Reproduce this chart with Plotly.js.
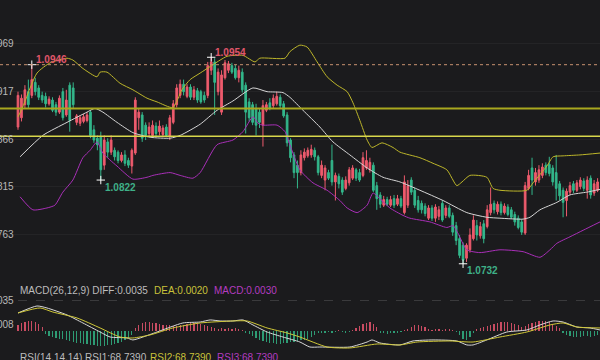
<!DOCTYPE html>
<html><head><meta charset="utf-8">
<script src="https://cdn.plot.ly/plotly-3.0.1.min.js"></script>
<style>html,body{margin:0;padding:0;background:#1b1b1d;overflow:hidden}#chart{width:600px;height:360px}</style>
</head><body><div id="chart"></div>
<script>
// ---- candle data (EUR/USD style) ----
const open=[1.0879,1.0889,1.0903,1.0917,1.0913,1.0927,1.0921,1.0913,1.0912,1.0904,
1.0908,1.0903,1.0895,1.0917,1.0892,1.0924,1.0921,1.0884,1.0883,1.0885,
1.0886,1.0895,1.0876,1.0867,1.0868,1.0838,1.0863,1.0852,1.0854,1.0852,
1.0843,1.0849,1.0843,1.0837,1.0851,1.0889,1.0892,1.0881,1.0872,1.0870,
1.0880,1.0874,1.0871,1.0879,1.0869,1.0884,1.0903,1.0913,1.0925,1.0912,
1.0922,1.0911,1.0918,1.0917,1.0913,1.0913,1.0940,1.0949,1.0917,1.0895,
1.0932,1.0940,1.0945,1.0942,1.0932,1.0938,1.0924,1.0906,1.0903,1.0899,
1.0895,1.0881,1.0897,1.0905,1.0902,1.0904,1.0911,1.0904,1.0892,1.0865,
1.0849,1.0838,1.0830,1.0846,1.0848,1.0849,1.0854,1.0847,1.0827,1.0822,
1.0830,1.0843,1.0820,1.0826,1.0822,1.0813,1.0819,1.0824,1.0833,1.0830,
1.0827,1.0835,1.0833,1.0838,1.0816,1.0806,1.0795,1.0801,1.0795,1.0802,
1.0796,1.0802,1.0787,1.0795,1.0822,1.0811,1.0800,1.0797,1.0794,1.0781,
1.0792,1.0781,1.0783,1.0797,1.0784,1.0792,1.0784,1.0773,1.0759,1.0752,
1.0738,1.0747,1.0759,1.0773,1.0762,1.0775,1.0772,1.0787,1.0797,1.0788,
1.0796,1.0787,1.0793,1.0790,1.0785,1.0781,1.0777,1.0765,1.0813,1.0835,
1.0820,1.0822,1.0827,1.0838,1.0839,1.0835,1.0830,1.0818,1.0811,1.0800,
1.0809,1.0818,1.0811,1.0815,1.0821,1.0811,1.0824,1.0808,1.0811];
const high=[1.0917,1.0914,1.0924,1.0930,1.0946,1.0932,1.0924,1.0917,1.0916,1.0912,
1.0911,1.0906,1.0913,1.0921,1.0919,1.0927,1.0927,1.0893,1.0892,1.0893,
1.0895,1.0897,1.0881,1.0870,1.0874,1.0870,1.0867,1.0870,1.0857,1.0854,
1.0852,1.0854,1.0846,1.0856,1.0911,1.0899,1.0895,1.0884,1.0884,1.0886,
1.0884,1.0886,1.0881,1.0882,1.0892,1.0908,1.0925,1.0930,1.0930,1.0925,
1.0925,1.0923,1.0921,1.0919,1.0917,1.0949,1.0954,1.0953,1.0942,1.0940,
1.0951,1.0950,1.0948,1.0946,1.0945,1.0942,1.0927,1.0910,1.0906,1.0904,
1.0899,1.0908,1.0906,1.0910,1.0914,1.0917,1.0914,1.0907,1.0895,1.0867,
1.0852,1.0843,1.0854,1.0856,1.0857,1.0860,1.0857,1.0849,1.0843,1.0838,
1.0833,1.0860,1.0830,1.0829,1.0825,1.0826,1.0836,1.0838,1.0835,1.0834,
1.0852,1.0854,1.0846,1.0841,1.0820,1.0809,1.0805,1.0804,1.0805,1.0806,
1.0806,1.0805,1.0827,1.0822,1.0825,1.0814,1.0805,1.0800,1.0797,1.0795,
1.0795,1.0796,1.0794,1.0800,1.0795,1.0795,1.0787,1.0777,1.0763,1.0755,
1.0754,1.0770,1.0784,1.0779,1.0777,1.0779,1.0795,1.0814,1.0800,1.0799,
1.0799,1.0797,1.0796,1.0793,1.0788,1.0784,1.0780,1.0820,1.0833,1.0846,
1.0835,1.0838,1.0840,1.0841,1.0847,1.0838,1.0849,1.0821,1.0814,1.0813,
1.0820,1.0821,1.0822,1.0825,1.0824,1.0826,1.0827,1.0822,1.0824];
const low=[1.0876,1.0885,1.0899,1.0899,1.0910,1.0913,1.0908,1.0905,1.0900,1.0902,
1.0895,1.0891,1.0893,1.0886,1.0890,1.0874,1.0899,1.0881,1.0880,1.0883,
1.0884,1.0867,1.0862,1.0854,1.0822,1.0833,1.0846,1.0849,1.0843,1.0840,
1.0841,1.0837,1.0835,1.0829,1.0849,1.0876,1.0863,1.0865,1.0869,1.0868,
1.0869,1.0870,1.0868,1.0868,1.0865,1.0882,1.0900,1.0910,1.0913,1.0910,
1.0908,1.0908,1.0905,1.0904,1.0905,1.0910,1.0935,1.0892,1.0913,1.0892,
1.0930,1.0937,1.0936,1.0930,1.0927,1.0916,1.0872,1.0885,1.0881,1.0870,
1.0878,1.0858,1.0895,1.0897,1.0899,1.0902,1.0899,1.0889,1.0858,1.0841,
1.0824,1.0813,1.0827,1.0843,1.0846,1.0846,1.0843,1.0827,1.0824,1.0811,
1.0822,1.0816,1.0800,1.0813,1.0806,1.0811,1.0816,1.0822,1.0821,1.0820,
1.0825,1.0833,1.0830,1.0809,1.0790,1.0792,1.0793,1.0794,1.0793,1.0792,
1.0794,1.0792,1.0785,1.0792,1.0806,1.0792,1.0787,1.0786,1.0783,1.0779,
1.0778,1.0777,1.0779,1.0777,1.0781,1.0781,1.0762,1.0752,1.0738,1.0732,
1.0734,1.0744,1.0757,1.0757,1.0759,1.0754,1.0770,1.0784,1.0786,1.0785,
1.0784,1.0785,1.0783,1.0780,1.0773,1.0769,1.0763,1.0763,1.0811,1.0806,
1.0816,1.0819,1.0824,1.0827,1.0826,1.0816,1.0800,1.0800,1.0782,1.0783,
1.0806,1.0808,1.0809,1.0812,1.0810,1.0802,1.0802,1.0805,1.0809];
const close=[1.0913,1.0910,1.0919,1.0903,1.0930,1.0917,1.0911,1.0908,1.0904,1.0909,
1.0897,1.0895,1.0910,1.0889,1.0908,1.0886,1.0903,1.0891,1.0889,1.0890,
1.0892,1.0870,1.0865,1.0860,1.0833,1.0865,1.0852,1.0865,1.0847,1.0843,
1.0849,1.0840,1.0838,1.0854,1.0908,1.0895,1.0867,1.0870,1.0879,1.0881,
1.0872,1.0880,1.0878,1.0870,1.0889,1.0904,1.0921,1.0925,1.0917,1.0922,
1.0911,1.0919,1.0908,1.0906,1.0908,1.0945,1.0949,1.0927,1.0938,1.0935,
1.0948,1.0947,1.0938,1.0932,1.0940,1.0919,1.0895,1.0889,1.0884,1.0881,
1.0884,1.0902,1.0903,1.0899,1.0910,1.0912,1.0902,1.0891,1.0862,1.0846,
1.0830,1.0830,1.0849,1.0852,1.0854,1.0855,1.0847,1.0830,1.0838,1.0835,
1.0824,1.0820,1.0827,1.0818,1.0809,1.0822,1.0833,1.0835,1.0824,1.0822,
1.0846,1.0843,1.0841,1.0811,1.0802,1.0796,1.0801,1.0796,1.0801,1.0795,
1.0802,1.0794,1.0820,1.0816,1.0809,1.0795,1.0790,1.0790,1.0786,1.0792,
1.0781,1.0793,1.0790,1.0779,1.0792,1.0783,1.0766,1.0757,1.0741,1.0736,
1.0752,1.0763,1.0779,1.0763,1.0772,1.0759,1.0790,1.0796,1.0790,1.0796,
1.0787,1.0794,1.0785,1.0782,1.0777,1.0771,1.0766,1.0816,1.0827,1.0822,
1.0830,1.0833,1.0836,1.0830,1.0829,1.0820,1.0813,1.0805,1.0798,1.0810,
1.0816,1.0811,1.0819,1.0822,1.0813,1.0822,1.0806,1.0818,1.0820];

// ---- Bollinger bands (at candle positions) ----
const upperIdx=[0,1.2,5.5,9.3,14.2,15.9,18.8,22.9,23.8,25.8,29.6,33.3,37.4,40.3,44.9,47.5,49.9,52.8,55.7,60.6,65.2,68.7,70.1,77.4,78.8,81.7,83.8,86.7,89.6,92.5,95.4,97.1,99.1,101.2,102.6,105.5,108.7,110.7,116.5,120.3,124.3,127.2,128.7,131.0,135.9,137.7,139.7,147.5,149.3,153.3,155.1,158.0,162.9,168.7];
const upperVal=[1.0890,1.0899,1.0937,1.0948,1.0953,1.0951,1.0942,1.0933,1.0938,1.0938,1.0926,1.0919,1.0910,1.0906,1.0900,1.0919,1.0930,1.0937,1.0944,1.0955,1.0956,1.0949,1.0953,1.0953,1.0960,1.0967,1.0965,1.0949,1.0933,1.0924,1.0917,1.0905,1.0886,1.0865,1.0857,1.0862,1.0857,1.0852,1.0846,1.0840,1.0833,1.0816,1.0820,1.0827,1.0825,1.0813,1.0811,1.0811,1.0819,1.0837,1.0847,1.0848,1.0849,1.0851];
const midIdx=[0.6,7.2,14.2,20.0,22.3,24.6,28.7,33.3,38.3,44.1,47.0,52.8,57.7,62.3,68.1,72.2,76.8,78.8,82.6,87.5,91.3,96.2,101.2,105.8,110.7,116.5,123.2,130.1,135.9,139.7,146.4,148.4,151.3,156.2,160.0,164.9,168.7];
const midVal=[1.0847,1.0870,1.0884,1.0895,1.0899,1.0895,1.0884,1.0873,1.0868,1.0867,1.0870,1.0882,1.0897,1.0907,1.0921,1.0917,1.0916,1.0911,1.0897,1.0879,1.0863,1.0849,1.0835,1.0825,1.0820,1.0811,1.0800,1.0787,1.0782,1.0781,1.0780,1.0782,1.0790,1.0798,1.0806,1.0809,1.0812];
const lowerIdx=[0.6,4.3,8.4,10.7,13.0,15.9,18.8,20.9,22.9,24.6,28.7,33.3,37.4,39.1,44.1,47.0,50.7,52.8,57.7,62.3,65.2,68.1,69.6,71.0,75.1,77.4,78.8,81.7,85.5,89.6,93.3,95.4,98.3,101.2,102.9,104.9,107.8,111.6,113.6,119.4,124.3,126.1,127.5,130.1,133.9,139.7,146.4,151.3,154.2,156.2,160.0,163.8,168.7];
const lowerVal=[1.0804,1.0790,1.0792,1.0795,1.0809,1.0822,1.0846,1.0854,1.0863,1.0851,1.0837,1.0823,1.0825,1.0827,1.0830,1.0827,1.0824,1.0830,1.0860,1.0865,1.0874,1.0890,1.0883,1.0881,1.0881,1.0874,1.0860,1.0833,1.0819,1.0811,1.0800,1.0792,1.0787,1.0795,1.0808,1.0802,1.0792,1.0784,1.0781,1.0777,1.0771,1.0773,1.0765,1.0747,1.0744,1.0747,1.0745,1.0739,1.0747,1.0754,1.0761,1.0768,1.0777];

// ---- horizontal levels ----
const dashedLevel=[1.0946];
const yellowLevels=[1.0899,1.0869];

// ---- marked extremes ----
const extremeIdx=[4,56,24,129];
const extremeVal=[1.0946,1.0954,1.0822,1.0732];
const extremeKind=['high','high','low','low'];

// ---- price axis tick labels ----
const mainTicks=[1.0969,1.0917,1.0866,1.0815,1.0763];

// ---- MACD ----
const macdHist=[0.00070,0.00093,0.00104,0.00116,0.00116,0.00104,0.00081,0.00046,
-0.00035,-0.00058,-0.00070,-0.00081,-0.00093,-0.00093,-0.00104,-0.00116,-0.00128,-0.00139,-0.00139,-0.00151,-0.00151,-0.00162,-0.00162,-0.00174,-0.00174,-0.00174,-0.00162,-0.00162,-0.00151,-0.00139,-0.00128,-0.00104,-0.00081,-0.00046,
0.00035,0.00070,0.00093,0.00104,0.00104,0.00093,0.00093,0.00081,0.00070,0.00070,0.00070,0.00058,0.00058,0.00070,0.00070,0.00081,0.00093,0.00093,0.00093,0.00081,0.00070,0.00058,0.00046,
0.00035,0.00023,0.00035,0.00023,0.00035,0.00023,0.00035,0.00023,0.00012,-0.00023,
-0.00035,-0.00058,-0.00081,-0.00104,-0.00116,-0.00128,-0.00139,-0.00139,-0.00151,-0.00151,-0.00139,-0.00139,-0.00128,-0.00128,-0.00116,-0.00104,-0.00104,-0.00093,-0.00070,-0.00046,-0.00023,
-0.00023,-0.00023,-0.00012,-0.00023,-0.00012,0.00012,-0.00012,-0.00023,-0.00012,0.00012,
0.00035,0.00058,0.00081,0.00093,0.00104,0.00081,0.00046,
-0.00023,-0.00023,-0.00035,-0.00023,-0.00023,-0.00023,-0.00012,0.00012,0.00023,
0.00046,0.00070,0.00070,0.00058,0.00046,0.00023,
0.00012,0.00023,0.00023,0.00012,0.00023,0.00023,0.00012,-0.00012,
-0.00046,-0.00093,-0.00104,-0.00070,-0.00023,
0.00023,0.00035,0.00046,0.00058,0.00070,0.00081,0.00093,0.00104,0.00104,0.00104,0.00093,0.00081,0.00070,0.00046,
0.00058,0.00081,0.00093,0.00104,0.00116,0.00116,0.00116,0.00104,0.00081,0.00058,0.00035,
-0.00023,-0.00046,-0.00058,-0.00070,-0.00070,-0.00070,-0.00058,-0.00058,-0.00070,-0.00058,-0.00046];
const diffIdx=[0,5.5,8.4,14.2,18.8,23.8,26.7,31.6,33.3,36.2,40.3,47.8,52.8,55.7,58.6,62.3,65.2,68.1,72.2,76.8,81.7,84.6,87.5,96.2,101.2,102.6,104.9,110.7,114.5,120.3,127.2,130.1,131.9,135.9,141.7,147.5,151.3,155.1,158.0,162.0,165.8,168.7];
const diffVal=[0.00209,0.00290,0.00267,0.00186,0.00093,-0.00012,-0.00070,-0.00081,-0.00104,-0.00070,-0.00012,0.00093,0.00104,0.00128,0.00116,0.00116,0.00128,0.00070,-0.00012,-0.00070,-0.00128,-0.00186,-0.00186,-0.00186,-0.00128,-0.00104,-0.00139,-0.00162,-0.00116,-0.00104,-0.00116,-0.00162,-0.00162,-0.00104,-0.00012,0.00012,0.00070,0.00116,0.00104,0.00046,0.00035,0.00012];
const deaIdx=[0,6.4,10.1,17.1,23.8,29.6,33.3,38.3,44.9,52.8,62.3,66.4,72.2,78.0,81.7,89.6,96.2,104.1,110.7,115.7,125.2,131.9,139.7,147.5,154.2,158.0,162.0,168.7];
const deaVal=[0.00209,0.00267,0.00220,0.00151,0.00035,-0.00070,-0.00081,-0.00046,0.00035,0.00093,0.00116,0.00116,0.00035,-0.00023,-0.00070,-0.00186,-0.00197,-0.00151,-0.00162,-0.00128,-0.00116,-0.00128,-0.00070,-0.00012,0.00070,0.00093,0.00046,0.00035];
const macdTicks=[0.0035,0.0008];

// ---- indicator header texts ----
const macdLabels=[
 {text:'MACD(26,12,9) DIFF:0.0035', color:'#bdbdbd', px:18},
 {text:'DEA:0.0020', color:'#c9c23a', px:152},
 {text:'MACD:0.0030', color:'#b43cc0', px:212}];
const rsiLabels=[
 {text:'RSI(14,14,14) RSI1:68.7390', color:'#bdbdbd', px:18},
 {text:'RSI2:68.7390', color:'#c9c23a', px:148},
 {text:'RSI3:68.7390', color:'#b43cc0', px:215}];

// ---- styling ----
const W=600,H=360,BG='#1b1b1d';
const UP='#ee5b6d', DOWN='#33b78b';
const FONT='"Liberation Sans", Arial, sans-serif';
const idx=open.map((_,i)=>i);

const traces=[
 {type:'candlestick', x:idx, open:open, high:high, low:low, close:close, xaxis:'x', yaxis:'y',
  increasing:{line:{color:UP,width:1},fillcolor:UP}, decreasing:{line:{color:DOWN,width:1},fillcolor:DOWN},
  whiskerwidth:0, hoverinfo:'skip', showlegend:false},
 {type:'scatter', mode:'lines', x:upperIdx, y:upperVal, line:{color:'#bdb62a',width:1,shape:'spline',smoothing:0.6}, hoverinfo:'skip', showlegend:false},
 {type:'scatter', mode:'lines', x:midIdx, y:midVal, line:{color:'#d6d6d6',width:1,shape:'spline',smoothing:0.6}, hoverinfo:'skip', showlegend:false},
 {type:'scatter', mode:'lines', x:lowerIdx, y:lowerVal, line:{color:'#a92fb8',width:1,shape:'spline',smoothing:0.6}, hoverinfo:'skip', showlegend:false},
 {type:'scatter', mode:'markers', x:extremeIdx, y:extremeVal, marker:{symbol:'cross-thin',size:6,line:{color:'#ffffff',width:1}}, hoverinfo:'skip', showlegend:false},
 {type:'bar', x:idx, y:macdHist, xaxis:'x', yaxis:'y2', width:0.35,
  marker:{color:macdHist.map(v=>v>=0?'#c84c62':'#2e9b74'), line:{width:0}}, hoverinfo:'skip', showlegend:false},
 {type:'scatter', mode:'lines', x:diffIdx, y:diffVal, xaxis:'x', yaxis:'y2', line:{color:'#d8d8d8',width:1,shape:'spline',smoothing:0.6}, hoverinfo:'skip', showlegend:false},
 {type:'scatter', mode:'lines', x:deaIdx, y:deaVal, xaxis:'x', yaxis:'y2', line:{color:'#d0c838',width:1,shape:'spline',smoothing:0.6}, hoverinfo:'skip', showlegend:false}
];

const shapes=[];
dashedLevel.forEach(v=>shapes.push({type:'line',xref:'paper',x0:0,x1:1,yref:'y',y0:v,y1:v,layer:'above',line:{color:'#c8926f',width:1,dash:'3px,3px'}}));
yellowLevels.forEach((v,k)=>shapes.push({type:'line',xref:'paper',x0:0,x1:1,yref:'y',y0:v,y1:v,layer:'above',
  line:{color:k===0?'#a9a81f':'#d9d84c',width:k===0?2:1.5}}));

const annotations=[];
mainTicks.forEach(v=>annotations.push({xref:'paper',yref:'y',x:16/W,y:v,text:v.toFixed(4),showarrow:false,xanchor:'right',yanchor:'middle',font:{family:FONT,size:10,color:'#b8b8b8'}}));
macdTicks.forEach(v=>annotations.push({xref:'paper',yref:'y2',x:16/W,y:v,text:v.toFixed(4),showarrow:false,xanchor:'right',yanchor:'middle',font:{family:FONT,size:10,color:'#b8b8b8'}}));
extremeIdx.forEach((xi,k)=>{
  const hi=extremeKind[k]==='high';
  annotations.push({xref:'x',yref:'y',x:xi,y:extremeVal[k],text:'<b>'+extremeVal[k].toFixed(4)+'</b>',showarrow:false,
   xanchor:'left',yanchor:'middle',xshift:2,yshift:hi?5:-7,font:{family:FONT,size:10,color:hi?'#e0566a':'#3fb088'}});
});
macdLabels.forEach(l=>annotations.push({xref:'paper',yref:'paper',x:l.px/W,y:1-290.5/H,text:l.text,showarrow:false,xanchor:'left',yanchor:'middle',font:{family:FONT,size:10,color:l.color}}));
rsiLabels.forEach(l=>annotations.push({xref:'paper',yref:'paper',x:l.px/W,y:1-357/H,text:l.text,showarrow:false,xanchor:'left',yanchor:'middle',font:{family:FONT,size:10,color:l.color}}));

const pxPerUnit=0.0001075;
const layout={
 width:W,height:H,margin:{l:0,r:0,t:0,b:0},paper_bgcolor:BG,plot_bgcolor:BG,showlegend:false,
 xaxis:{range:[-5.22,168.7],showticklabels:false,showgrid:false,zeroline:false,showline:false,ticks:'',rangeslider:{visible:false},fixedrange:true},
 yaxis:{domain:[1-282/H,1],range:[1.101555-282*pxPerUnit,1.101555],tickvals:mainTicks,showticklabels:false,showgrid:true,gridcolor:'#242426',gridwidth:1,zeroline:false,showline:false,ticks:''},
 yaxis2:{domain:[1-352/H,1-296/H],range:[-0.00244,0.00406],tickvals:[macdTicks[0]],showticklabels:false,showgrid:true,gridcolor:'#3a3a3c',griddash:'dash',gridwidth:1,zeroline:false,showline:false,ticks:''},
 shapes:shapes,annotations:annotations,bargap:0
};
Plotly.newPlot('chart',traces,layout,{staticPlot:true,displayModeBar:false});
</script></body></html>
